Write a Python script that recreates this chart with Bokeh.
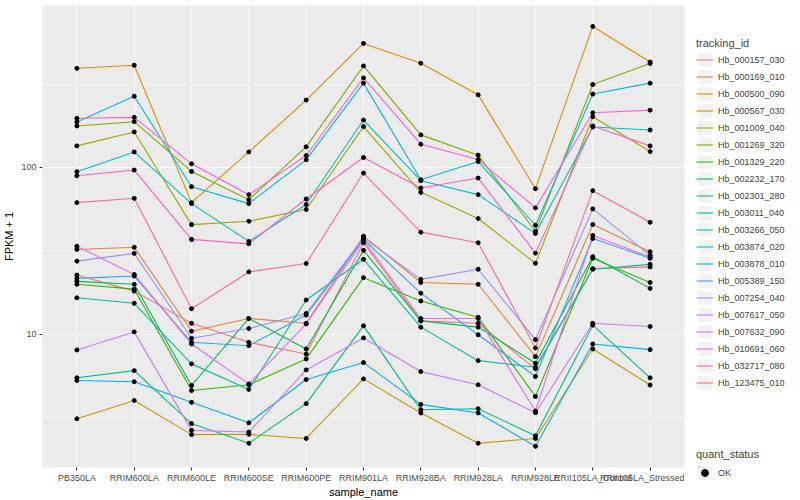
import numpy as np
from bokeh.plotting import figure
from bokeh.layouts import row, column
from bokeh.models import Range1d, FixedTicker, Legend, LegendItem, PrintfTickFormatter
from bokeh.embed import file_html
from bokeh.resources import INLINE

samples = ["PB350LA", "RRIM600LA", "RRIM600LE", "RRIM600SE", "RRIM600PE", "RRIM901LA",
           "RRIM928BA", "RRIM928LA", "RRIM928LE", "RRII105LA_Control", "RRII105LA_Stressed"]

tracking_ids = ["Hb_000157_030", "Hb_000169_010", "Hb_000500_090", "Hb_000567_030",
                "Hb_001009_040", "Hb_001269_320", "Hb_001329_220", "Hb_002232_170",
                "Hb_002301_280", "Hb_003011_040", "Hb_003266_050", "Hb_003874_020",
                "Hb_003878_010", "Hb_005389_150", "Hb_007254_040", "Hb_007617_050",
                "Hb_007632_090", "Hb_010691_060", "Hb_032717_080", "Hb_123475_010"]

colors = ["#F8766D", "#EA8331", "#D89000", "#C09B00", "#A3A500", "#7CAE00", "#39B600",
          "#00BB4E", "#00BF7D", "#00C1A3", "#00BFC4", "#00BAE0", "#00B0F6", "#35A2FF",
          "#9590FF", "#C77CFF", "#E76BF3", "#FA62DB", "#FF62BC", "#FF6C91"]

# FPKM + 1 per sample (order of `samples`)
hb_000157_030 = [22.6, 18.1, 11.6, 8.92, 7.59, 35.3, 12.0, 11.6, 6.18, 24.7, 25.3]
hb_000169_010 = [32.2, 33.2, 10.4, 12.4, 11.6, 38.7, 20.4, 19.9, 7.32, 45.4, 31.2]
hb_000500_090 = [394, 411, 61.5, 124, 254, 556, 423, 273, 74.6, 703, 430]
hb_000567_030 = [3.10, 3.99, 2.49, 2.50, 2.36, 5.38, 3.36, 2.21, 2.36, 8.14, 4.94]
hb_001009_040 = [134.8, 163.5, 45.4, 47.6, 55.9, 176, 70.9, 49.4, 26.6, 201.7, 124.6]
hb_001269_320 = [177.6, 188.4, 94.7, 64.1, 133, 407, 157, 118.6, 41.4, 315, 421]
hb_001329_220 = [19.9, 18.6, 4.58, 4.96, 7.09, 21.8, 15.8, 12.6, 4.22, 28.5, 20.4]
hb_002232_170 = [20.7, 19.9, 4.91, 12.4, 8.14, 31.8, 12.0, 11.0, 6.68, 29.1, 18.8]
hb_002301_280 = [5.46, 6.03, 2.90, 2.21, 3.82, 11.2, 3.51, 3.56, 2.45, 11.3, 5.46]
hb_003011_040 = [16.5, 15.3, 6.62, 4.65, 16.0, 28.1, 11.0, 6.92, 6.32, 24.5, 26.2]
hb_003266_050 = [94.3, 124, 60.7, 36.0, 59.9, 192.8, 83.3, 68.7, 40.2, 175, 168]
hb_003874_020 = [187.6, 268, 76.7, 60.7, 111.2, 321, 84.4, 108.6, 45.0, 276, 321]
hb_003878_010 = [5.26, 5.17, 3.89, 2.93, 5.33, 6.74, 3.78, 3.36, 2.12, 8.71, 8.06]
hb_005389_150 = [21.6, 22.3, 8.92, 8.51, 13.0, 37.0, 17.6, 9.9, 5.56, 37.5, 28.5]
hb_007254_040 = [27.4, 30.5, 9.43, 10.8, 13.3, 37.8, 21.3, 24.5, 9.25, 56.4, 29.7]
hb_007617_050 = [8.02, 10.3, 2.64, 2.58, 6.09, 9.47, 5.95, 4.96, 3.37, 11.6, 11.1]
hb_007632_090 = [33.7, 22.8, 8.71, 5.02, 11.5, 36.5, 12.4, 12.4, 3.45, 39.1, 29.0]
hb_010691_060 = [197.4, 200, 105.2, 68.7, 118, 345, 138, 111.6, 57.2, 213, 221]
hb_032717_080 = [89.2, 96.5, 37.0, 34.8, 64.7, 114.8, 75.3, 86.4, 30.6, 177.6, 134.8]
hb_123475_010 = [61.5, 65.3, 14.2, 23.6, 26.5, 92.6, 40.9, 35.3, 8.25, 72.6, 46.9]

series = [hb_000157_030, hb_000169_010, hb_000500_090, hb_000567_030, hb_001009_040,
          hb_001269_320, hb_001329_220, hb_002232_170, hb_002301_280, hb_003011_040,
          hb_003266_050, hb_003874_020, hb_003878_010, hb_005389_150, hb_007254_040,
          hb_007617_050, hb_007632_090, hb_010691_060, hb_032717_080, hb_123475_010]

quant_status = ["OK"]

FONT = "Liberation Sans"

# ---------------- main panel ----------------
p = figure(width=684, height=500, x_range=Range1d(-0.6, 10.6), y_range=Range1d(1.58, 939),
           y_axis_type="log", output_backend="svg", toolbar_location=None,
           min_border_left=40, min_border_right=0, min_border_top=5, min_border_bottom=0)
p.background_fill_color = "#EBEBEB"
p.border_fill_color = "white"
p.outline_line_color = None

xs = list(range(len(samples)))

for col, vals in zip(colors, series):
    p.line(xs, vals, line_color=col, line_width=1.1)

all_x = [x for vals in series for x in xs]
all_y = [v for vals in series for v in vals]
p.scatter(all_x, all_y, size=4, color="black")

p.xaxis.ticker = FixedTicker(ticks=xs)
p.xaxis.major_label_overrides = {i: s for i, s in enumerate(samples)}
p.yaxis.ticker = FixedTicker(ticks=[10, 100], minor_ticks=[3.1623, 31.623, 316.23])
p.yaxis.formatter = PrintfTickFormatter(format="%d")
p.xaxis.axis_label = "sample_name"
p.yaxis.axis_label = "FPKM + 1"
for ax in (p.xaxis[0], p.yaxis[0]):
    ax.axis_line_color = None
    ax.major_tick_line_color = "#333333"
    ax.major_tick_in = 0
    ax.major_tick_out = 3
    ax.minor_tick_line_color = None
    ax.major_label_text_font = FONT
    ax.major_label_text_font_size = "9px"
    ax.major_label_text_color = "#4D4D4D"
    ax.major_label_standoff = 2
    ax.axis_label_text_font = FONT
    ax.axis_label_text_font_size = "11px"
    ax.axis_label_text_font_style = "normal"
    ax.axis_label_text_color = "black"
    ax.axis_label_standoff = 0
p.yaxis.axis_label_standoff = 3

p.xgrid.grid_line_color = "white"
p.xgrid.grid_line_width = 1.1
p.ygrid.grid_line_color = "white"
p.ygrid.grid_line_width = 1.1
p.ygrid.minor_grid_line_color = "white"
p.ygrid.minor_grid_line_width = 0.55

# ---------------- legend panel ----------------
lp = figure(width=116, height=500, x_range=Range1d(0, 1), y_range=Range1d(0, 1),
            x_axis_location=None, y_axis_location=None, output_backend="svg",
            toolbar_location=None, min_border=0)
lp.grid.visible = False
lp.outline_line_color = None
lp.background_fill_color = "white"
lp.border_fill_color = "white"

nan1 = np.array([np.nan])
nan2 = np.array([np.nan, np.nan])
key_bg = lp.quad(left=nan1, right=nan1, top=nan1, bottom=nan1,
                 fill_color="#F2F2F2", line_color=None)
key_lines = [lp.line(nan2, nan2, line_color=col, line_width=1.1) for col in colors]
ok_pt = lp.scatter(x=nan1, y=nan1, size=4, color="black")


def style_legend(leg):
    leg.padding = 0
    leg.spacing = 0
    leg.margin = 0
    leg.glyph_height = 17
    leg.glyph_width = 17
    leg.label_height = 17
    leg.label_standoff = 5
    leg.label_text_font = FONT
    leg.label_text_font_size = "9px"
    leg.title_text_font = FONT
    leg.title_text_font_size = "11px"
    leg.title_text_font_style = "normal"
    leg.title_standoff = 2
    leg.border_line_color = None
    leg.background_fill_alpha = 0


items = [LegendItem(label=tid, renderers=[key_bg, r]) for tid, r in zip(tracking_ids, key_lines)]
leg1 = Legend(items=items, title="tracking_id", location=(12, 109))
style_legend(leg1)
lp.add_layout(leg1, "center")

leg2 = Legend(items=[LegendItem(label=quant_status[0], renderers=[key_bg, ok_pt])],
              title="quant_status", location=(12, 19))
style_legend(leg2)
leg2.title_standoff = 4
lp.add_layout(leg2, "center")

layout = row(p, column(lp, spacing=0), spacing=0)
open("out.html", "w").write(file_html(layout, INLINE))
